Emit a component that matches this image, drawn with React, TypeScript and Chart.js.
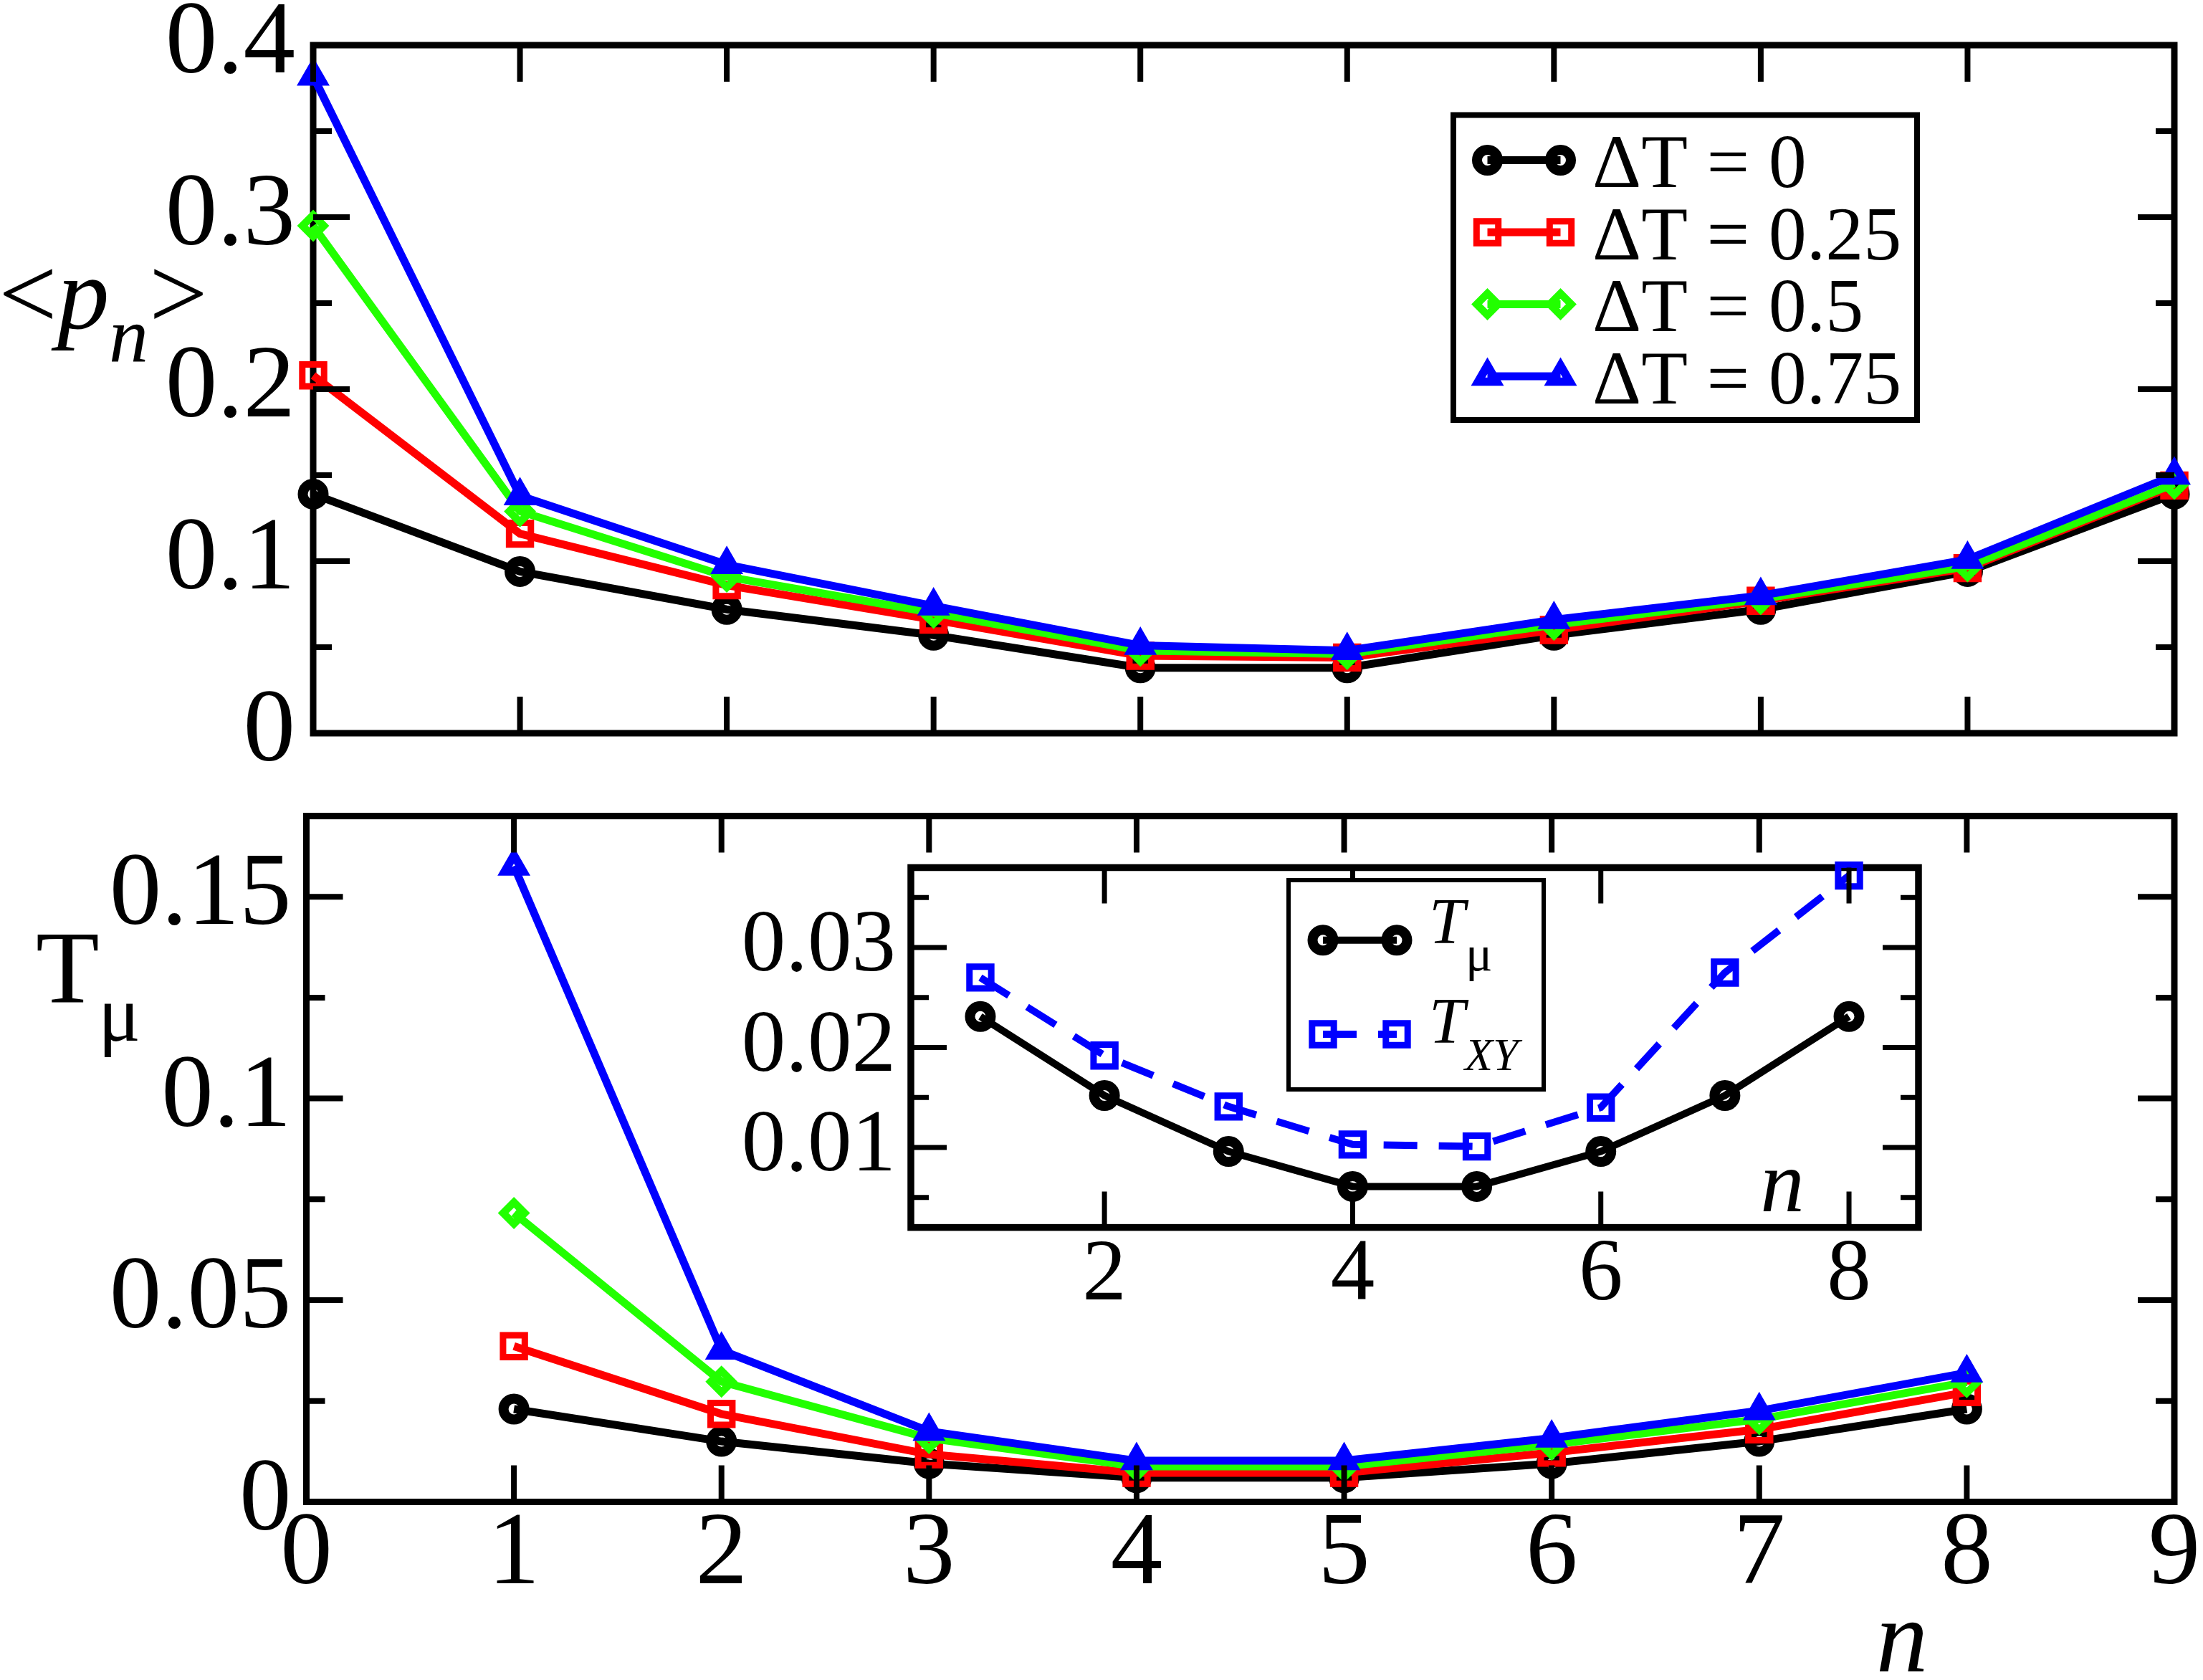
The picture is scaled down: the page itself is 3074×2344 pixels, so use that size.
import React, { useEffect, useRef } from 'react';
import { Chart, registerables } from 'chart.js';
import { drawPoint } from 'chart.js/helpers';

Chart.register(...registerables);

const FONT = '"Liberation Serif", "Times New Roman", serif';

// ---------- Top panel: <p_n> ----------
const nTop = [0, 1, 2, 3, 4, 5, 6, 7, 8, 9];
const pnDT0 = [0.139, 0.094, 0.072, 0.057, 0.038, 0.038, 0.057, 0.072, 0.094, 0.139];
const pnDT025 = [0.208, 0.116, 0.086, 0.066, 0.045, 0.044, 0.060, 0.077, 0.096, 0.144];
const pnDT05 = [0.295, 0.129, 0.091, 0.070, 0.048, 0.046, 0.063, 0.078, 0.097, 0.145];
const pnDT075 = [0.382, 0.138, 0.098, 0.074, 0.051, 0.048, 0.066, 0.080, 0.101, 0.150];

// ---------- Bottom panel: T_mu ----------
const nBottom = [1, 2, 3, 4, 5, 6, 7, 8];
const tmuDT0 = [0.023, 0.015, 0.0095, 0.006, 0.006, 0.0095, 0.015, 0.023];
const tmuDT025 = [0.0386, 0.0218, 0.0118, 0.0072, 0.0072, 0.0122, 0.018, 0.0272];
const tmuDT05 = [0.0716, 0.0298, 0.0158, 0.0088, 0.0088, 0.0142, 0.0205, 0.0297];
const tmuDT075 = [0.1576, 0.0376, 0.0175, 0.0102, 0.0102, 0.0158, 0.0226, 0.032];

// ---------- Inset ----------
const nInset = [1, 2, 3, 4, 5, 6, 7, 8];
const insetTmu = [0.0231, 0.0152, 0.0096, 0.0061, 0.0061, 0.0096, 0.0152, 0.0231];
const insetTxy = [0.027, 0.0192, 0.0141, 0.0103, 0.0101, 0.014, 0.0275, 0.0372];

const seriesLabels = ['\u0394T = 0', '\u0394T = 0.25', '\u0394T = 0.5', '\u0394T = 0.75'];
const insetLabels = ['T_mu', 'T_XY'];

const seriesColors = ['#000000', '#ff0000', '#22ff00', '#0000ff'];
const seriesMarkers = ['circle', 'rect', 'rectRot', 'triangle'];
const markerRadius: any = { circle: 14.5, rect: 21.5, rectRot: 15, triangle: 15 };
const markerBorder: any = { circle: 14, rect: 9, rectRot: 10.5, triangle: 11.5 };

const fmt = (v: any) => String(+Number(v).toFixed(4));

function lineDataset(label: string, xs: number[], ys: number[], color: string, marker: string, order: number, width: number, dash?: number[]) {
  return {
    label,
    data: xs.map((x, i) => ({ x, y: ys[i] })),
    borderColor: color,
    backgroundColor: 'rgba(0,0,0,0)',
    borderWidth: width,
    borderDash: dash || [],
    pointStyle: marker,
    pointRadius: markerRadius[marker],
    pointHoverRadius: markerRadius[marker],
    pointBorderWidth: markerBorder[marker],
    pointHoverBorderWidth: markerBorder[marker],
    pointBorderColor: color,
    pointBackgroundColor: 'rgba(0,0,0,0)',
    tension: 0,
    fill: false,
    clip: false,
    order,
  };
}

function zeroPad(s: any) {
  s.paddingLeft = 0;
  s.paddingRight = 0;
  s.paddingTop = 0;
  s.paddingBottom = 0;
}

function xAxis(min: number, max: number, step: number, show: boolean, size: number, pad: number, height: number) {
  return {
    type: 'linear',
    position: 'bottom',
    min,
    max,
    grid: { display: false, drawTicks: false },
    border: { display: false },
    ticks: {
      display: show,
      stepSize: step,
      includeBounds: false,
      autoSkip: false,
      maxRotation: 0,
      minRotation: 0,
      padding: pad,
      color: '#000',
      font: { family: FONT, size, lineHeight: 1 },
      callback: fmt,
    },
    afterFit: (s: any) => {
      s.height = height;
      zeroPad(s);
    },
  };
}

function yAxis(min: number, max: number, step: number, size: number, pad: number, width: number) {
  return {
    type: 'linear',
    position: 'left',
    min,
    max,
    grid: { display: false, drawTicks: false },
    border: { display: false },
    ticks: {
      stepSize: step,
      includeBounds: false,
      autoSkip: false,
      padding: pad,
      color: '#000',
      font: { family: FONT, size, lineHeight: 1 },
      callback: fmt,
    },
    afterFit: (s: any) => {
      s.width = width;
      zeroPad(s);
    },
  };
}

// frame is drawn under the data, tick marks over it
function makeFrame(major: number, minor: number, tickW: number, frameW: number, fillWhite: boolean) {
  return {
    id: 'frameTicks',
    beforeDatasetsDraw(chart: any) {
      const { ctx, chartArea: a } = chart;
      ctx.save();
      if (fillWhite) {
        ctx.fillStyle = '#ffffff';
        ctx.fillRect(a.left, a.top, a.right - a.left, a.bottom - a.top);
      }
      ctx.strokeStyle = '#000';
      ctx.lineWidth = frameW;
      ctx.strokeRect(a.left, a.top, a.right - a.left, a.bottom - a.top);
      ctx.restore();
    },
    afterDatasetsDraw(chart: any) {
      const { ctx, chartArea: a } = chart;
      const xs = chart.scales.x;
      const ys = chart.scales.y;
      ctx.save();
      ctx.strokeStyle = '#000';
      ctx.lineCap = 'butt';
      ctx.lineWidth = tickW;
      ctx.beginPath();
      xs.ticks.forEach((t: any) => {
        const p = xs.getPixelForValue(t.value);
        ctx.moveTo(p, a.bottom);
        ctx.lineTo(p, a.bottom - major);
        ctx.moveTo(p, a.top);
        ctx.lineTo(p, a.top + major);
      });
      const yv = ys.ticks.map((t: any) => t.value);
      yv.forEach((v: number) => {
        const p = ys.getPixelForValue(v);
        ctx.moveTo(a.left, p);
        ctx.lineTo(a.left + major, p);
        ctx.moveTo(a.right, p);
        ctx.lineTo(a.right - major, p);
      });
      if (yv.length > 1) {
        const step = yv[1] - yv[0];
        for (let k = -1; k < yv.length + 1; k++) {
          const v = yv[0] + step * (k + 0.5);
          if (v < ys.min - 1e-9 || v > ys.max + 1e-9) continue;
          const p = ys.getPixelForValue(v);
          ctx.moveTo(a.left, p);
          ctx.lineTo(a.left + minor, p);
          ctx.moveTo(a.right, p);
          ctx.lineTo(a.right - minor, p);
        }
      }
      ctx.stroke();
      ctx.restore();
    },
  };
}

function drawLegendEntry(ctx: any, ds: any, x1: number, x2: number, y: number) {
  ctx.save();
  ctx.strokeStyle = ds.borderColor;
  ctx.lineWidth = ds.borderWidth;
  ctx.lineCap = 'butt';
  ctx.setLineDash(ds.borderDash || []);
  ctx.beginPath();
  ctx.moveTo(x1, y);
  ctx.lineTo(x2, y);
  ctx.stroke();
  ctx.setLineDash([]);
  ctx.fillStyle = 'rgba(0,0,0,0)';
  ctx.strokeStyle = ds.pointBorderColor;
  ctx.lineWidth = ds.pointBorderWidth;
  const opt = { pointStyle: ds.pointStyle, radius: ds.pointRadius, borderWidth: ds.pointBorderWidth, rotation: 0 };
  drawPoint(ctx, opt as any, x1, y);
  drawPoint(ctx, opt as any, x2, y);
  ctx.restore();
}

const baseOptions = (scales: any, padding: any) => ({
  responsive: false,
  maintainAspectRatio: false,
  animation: false,
  events: [],
  layout: { padding },
  plugins: { legend: { display: false }, tooltip: { enabled: false }, title: { display: false } },
  scales,
});

function topConfig(): any {
  const datasets = [
    lineDataset(seriesLabels[0], nTop, pnDT0, seriesColors[0], seriesMarkers[0], 4, 11),
    lineDataset(seriesLabels[1], nTop, pnDT025, seriesColors[1], seriesMarkers[1], 3, 11),
    lineDataset(seriesLabels[2], nTop, pnDT05, seriesColors[2], seriesMarkers[2], 2, 11),
    lineDataset(seriesLabels[3], nTop, pnDT075, seriesColors[3], seriesMarkers[3], 1, 11),
  ];
  const deco = {
    id: 'topDeco',
    afterDraw(chart: any) {
      const ctx = chart.ctx;
      ctx.save();
      ctx.fillStyle = '#000';
      ctx.textAlign = 'left';
      ctx.textBaseline = 'alphabetic';
      // y title <p_n>
      ctx.font = `145px ${FONT}`;
      ctx.fillText('<', -2, 458);
      ctx.font = `italic 145px ${FONT}`;
      ctx.fillText('p', 80, 458);
      ctx.font = `italic 110px ${FONT}`;
      ctx.fillText('n', 152, 505);
      ctx.font = `145px ${FONT}`;
      ctx.fillText('>', 208, 458);
      // legend
      ctx.fillStyle = '#fff';
      ctx.fillRect(2028, 160.5, 647, 425.5);
      ctx.strokeStyle = '#000';
      ctx.lineWidth = 8;
      ctx.strokeRect(2028, 160.5, 647, 425.5);
      chart.data.datasets.forEach((ds: any, i: number) => {
        const y = 223.5 + i * 100.5;
        drawLegendEntry(ctx, ds, 2075.5, 2177.5, y);
        ctx.fillStyle = '#000';
        ctx.font = `106px ${FONT}`;
        ctx.fillText(ds.label, 2222, y + 37.5);
      });
      ctx.restore();
    },
  };
  return {
    type: 'line',
    data: { datasets },
    options: baseOptions(
      { x: xAxis(0, 9, 1, false, 145, 3, 77), y: yAxis(0, 0.4, 0.1, 145, 25, 437) },
      { top: 63, right: 40, bottom: 0, left: 0 }
    ),
    plugins: [makeFrame(51, 26, 8, 9, false), deco],
  };
}

function bottomConfig(): any {
  const datasets = [
    lineDataset(seriesLabels[0], nBottom, tmuDT0, seriesColors[0], seriesMarkers[0], 4, 11),
    lineDataset(seriesLabels[1], nBottom, tmuDT025, seriesColors[1], seriesMarkers[1], 3, 11),
    lineDataset(seriesLabels[2], nBottom, tmuDT05, seriesColors[2], seriesMarkers[2], 2, 11),
    lineDataset(seriesLabels[3], nBottom, tmuDT075, seriesColors[3], seriesMarkers[3], 1, 11),
  ];
  const deco = {
    id: 'bottomDeco',
    afterDraw(chart: any) {
      const ctx = chart.ctx;
      ctx.save();
      ctx.fillStyle = '#000';
      ctx.textAlign = 'left';
      ctx.textBaseline = 'alphabetic';
      ctx.font = `145px ${FONT}`;
      ctx.fillText('T', 50, 298);
      ctx.font = `110px ${FONT}`;
      ctx.fillText('\u03bc', 137, 352);
      ctx.font = `italic 145px ${FONT}`;
      ctx.textAlign = 'center';
      ctx.fillText('n', 2654, 1232);
      ctx.restore();
    },
  };
  return {
    type: 'line',
    data: { datasets },
    options: baseOptions(
      { x: xAxis(0, 9, 1, true, 145, 3, 248.5), y: yAxis(0, 0.17, 0.05, 145, 21, 427.5) },
      { top: 38.6, right: 40, bottom: 0, left: 0 }
    ),
    plugins: [makeFrame(51, 26, 8, 9, false), deco],
  };
}

function insetConfig(): any {
  const datasets = [
    lineDataset(insetLabels[0], nInset, insetTmu, '#000000', 'circle', 1, 10),
    lineDataset(insetLabels[1], nInset, insetTxy, '#0000ff', 'rect', 2, 10, [47, 30]),
  ];
  const deco = {
    id: 'insetDeco',
    afterDraw(chart: any) {
      const ctx = chart.ctx;
      ctx.save();
      ctx.fillStyle = '#000';
      ctx.textBaseline = 'alphabetic';
      ctx.textAlign = 'center';
      ctx.font = `italic 123px ${FONT}`;
      ctx.fillText('n', 1487, 510);
      ctx.textAlign = 'left';
      // legend box
      ctx.fillStyle = '#fff';
      ctx.fillRect(798, 48, 356, 292);
      ctx.strokeStyle = '#000';
      ctx.lineWidth = 6;
      ctx.strokeRect(798, 48, 356, 292);
      const ds = chart.data.datasets;
      drawLegendEntry(ctx, ds[0], 846, 949, 131.7);
      drawLegendEntry(ctx, ds[1], 846, 949, 263);
      ctx.fillStyle = '#000';
      ctx.font = `italic 90px ${FONT}`;
      ctx.fillText('T', 994, 136);
      ctx.font = `70px ${FONT}`;
      ctx.fillText('\u03bc', 1045, 173.5);
      ctx.font = `italic 90px ${FONT}`;
      ctx.fillText('T', 994, 274.5);
      ctx.font = `italic 64px ${FONT}`;
      ctx.fillText('XY', 1044, 312.5);
      ctx.restore();
    },
  };
  return {
    type: 'line',
    data: { datasets },
    options: baseOptions(
      { x: xAxis(0.44, 8.56, 2, true, 123, 7, 167.4), y: yAxis(0.002, 0.038, 0.01, 123, 21, 271) },
      { top: 22, right: 43, bottom: 0, left: 0 }
    ),
    plugins: [makeFrame(50, 25, 7, 9.5, true), deco],
  };
}

export default function App() {
  const topRef = useRef<HTMLCanvasElement>(null);
  const botRef = useRef<HTMLCanvasElement>(null);
  const insRef = useRef<HTMLCanvasElement>(null);

  useEffect(() => {
    document.body.style.margin = '0';
    document.body.style.background = '#ffffff';
    const charts: Chart[] = [];
    if (topRef.current) charts.push(new Chart(topRef.current, topConfig()));
    if (botRef.current) charts.push(new Chart(botRef.current, bottomConfig()));
    if (insRef.current) charts.push(new Chart(insRef.current, insetConfig()));
    return () => charts.forEach((c) => c.destroy());
  }, []);

  return (
    <div style={{ position: 'absolute', left: 0, top: 0, width: 3074, height: 2344, background: '#ffffff', overflow: 'hidden' }}>
      <canvas ref={topRef} width={3074} height={1100} style={{ position: 'absolute', left: 0, top: 0, width: 3074, height: 1100 }} />
      <canvas ref={botRef} width={3074} height={1244} style={{ position: 'absolute', left: 0, top: 1100, width: 3074, height: 1244 }} />
      <canvas ref={insRef} width={1720} height={700} style={{ position: 'absolute', left: 1000, top: 1180, width: 1720, height: 700 }} />
    </div>
  );
}
